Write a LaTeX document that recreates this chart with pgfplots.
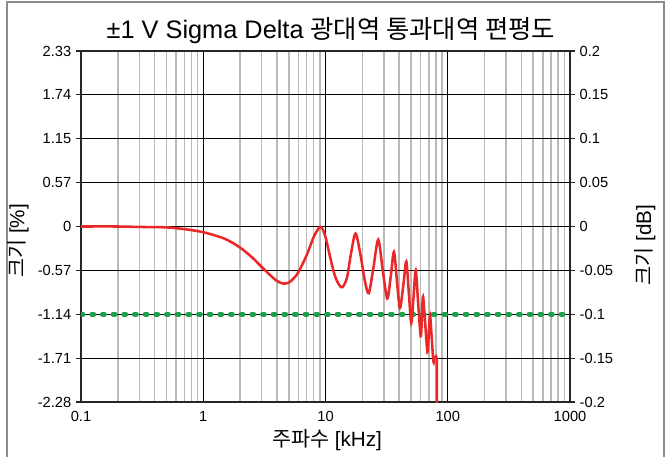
\documentclass[border=0pt]{standalone}
\usepackage{fontspec}
\setmainfont{Liberation Sans}
\newfontfamily\kr{Noto Sans CJK KR}
\usepackage{pgfplots}
\usepackage{pgfplotstable}
\pgfplotsset{compat=1.18}

\definecolor{curvered}{RGB}{235,40,40}
\definecolor{limgreen}{RGB}{30,160,75}
\definecolor{minorgray}{RGB}{185,185,185}
\definecolor{framegray}{RGB}{140,140,140}

% passband flatness, frequency in kHz, magnitude in dB
\pgfplotstableread{
f db
0.1 0
0.2 0
0.3 -0.0005
0.5 -0.001
0.7 -0.003
1.0 -0.0065
1.5 -0.014
2.0 -0.024
2.5 -0.035
3.0 -0.046
3.5 -0.055
4.0 -0.062
4.5 -0.065
5.0 -0.064
5.5 -0.059
6.0 -0.052
7.0 -0.033
8.0 -0.012
8.8 -0.002
9.3 -0.001
10.0 -0.012
11 -0.037
12 -0.057
13 -0.067
13.8 -0.069
15 -0.058
16.2 -0.030
17.6 -0.008
19.2 -0.030
21 -0.062
22.6 -0.076
24.6 -0.048
27 -0.015
29.4 -0.050
32 -0.082
34.1 -0.058
36.3 -0.029
38.4 -0.062
40.6 -0.093
43.2 -0.068
45.8 -0.040
48 -0.075
50.3 -0.110
52.5 -0.080
54.7 -0.050
57.3 -0.088
60.1 -0.125
61.5 -0.103
62.8 -0.080
65.5 -0.112
68.2 -0.143
70 -0.122
71.6 -0.101
74 -0.128
76.4 -0.154
78 -0.150
80 -0.148
81.3 -0.150
}\flatness

\pgfplotstableread{
f db
81.3 -0.150
81.6 -0.25
}\falloff

\pgfplotstableread{
f db
0.1 -0.1
1000 -0.1
}\limit

\begin{document}
\begin{tikzpicture}
\useasboundingbox (0,0) rectangle (500.25pt,342.75pt);
\draw[framegray, line width=1.5pt] (5.25pt,0) -- (5.25pt,341.25pt) -- (498pt,341.25pt) -- (498pt,0);

\begin{axis}[
    at={(60.75pt,41.25pt)}, anchor=south west,
    scale only axis, width=366.75pt, height=263.25pt,
    xmode=log, xmin=0.1, xmax=1000, ymin=-0.2, ymax=0.2,
    xtick={0.1,1,10,100,1000},
    xticklabels={0.1,1,10,100,1000},
    minor xtick={0.2,0.3,0.4,0.5,0.6,0.7,0.8,0.9,2,3,4,5,6,7,8,9,20,30,40,50,60,70,80,90,200,300,400,500,600,700,800,900},
    ytick={-0.2,-0.15,-0.1,-0.05,0,0.05,0.1,0.15,0.2},
    yticklabels={-2.28,-1.71,-1.14,-0.57,0,0.57,1.15,1.74,2.33},
    xmajorgrids, xminorgrids, ymajorgrids,
    major grid style={black, line width=0.9pt},
    minor grid style={minorgray, line width=1.2pt},
    axis line style={black!85, line width=1.1pt},
    tick align=outside, ytick pos=left,
    major tick length=3.75pt, minor tick length=0pt,
    xtick style={draw=none},
    ytick style={black!85, line width=0.9pt},
    /pgf/number format/assume math mode=true,
    tick label style={font=\fontsize{11pt}{13pt}\selectfont},
    xlabel={{\kr 주파수} [kHz]},
    xlabel style={font=\fontsize{15.5pt}{18pt}\selectfont, at={(rel axis cs:0.503,-0.108)}, anchor=center},
    ylabel={{\kr 크기} [\%]},
    ylabel style={font=\fontsize{15.5pt}{18pt}\selectfont, at={(rel axis cs:-0.129,0.459)}, anchor=center},
    every axis title shift=0pt,
    title={±1 V Sigma Delta {\kr 광대역 통과대역 편평도}},
    title style={font=\fontsize{19pt}{22pt}\selectfont, at={(rel axis cs:0.511,1.057)}, anchor=center},
    clip=true,
]
\addplot[limgreen, line width=3.6pt, line cap=round, dash pattern=on 1.6pt off 6.4pt] table[x=f, y=db] {\limit};
\addplot[curvered, line width=1.9pt, smooth, tension=0.5] table[x=f, y=db] {\flatness};
\addplot[curvered, line width=1.9pt] table[x=f, y=db] {\falloff};
\end{axis}

\begin{axis}[
    at={(60.75pt,41.25pt)}, anchor=south west,
    scale only axis, width=366.75pt, height=263.25pt,
    xmode=log, xmin=0.1, xmax=1000, ymin=-0.2, ymax=0.2,
    axis x line=none, axis y line*=right,
    axis line style={black!85, line width=1.1pt},
    ytick={-0.2,-0.15,-0.1,-0.05,0,0.05,0.1,0.15,0.2},
    yticklabels={-0.2,-0.15,-0.1,-0.05,0,0.05,0.1,0.15,0.2},
    tick align=outside, major tick length=3.75pt,
    ytick style={black!85, line width=0.9pt},
    /pgf/number format/assume math mode=true,
    tick label style={font=\fontsize{11pt}{13pt}\selectfont},
    ylabel={{\kr 크기} [dB]},
    ylabel style={font=\fontsize{15.5pt}{18pt}\selectfont, at={(rel axis cs:1.153,0.447)}, anchor=center},
]
\end{axis}
\end{tikzpicture}
\end{document}
